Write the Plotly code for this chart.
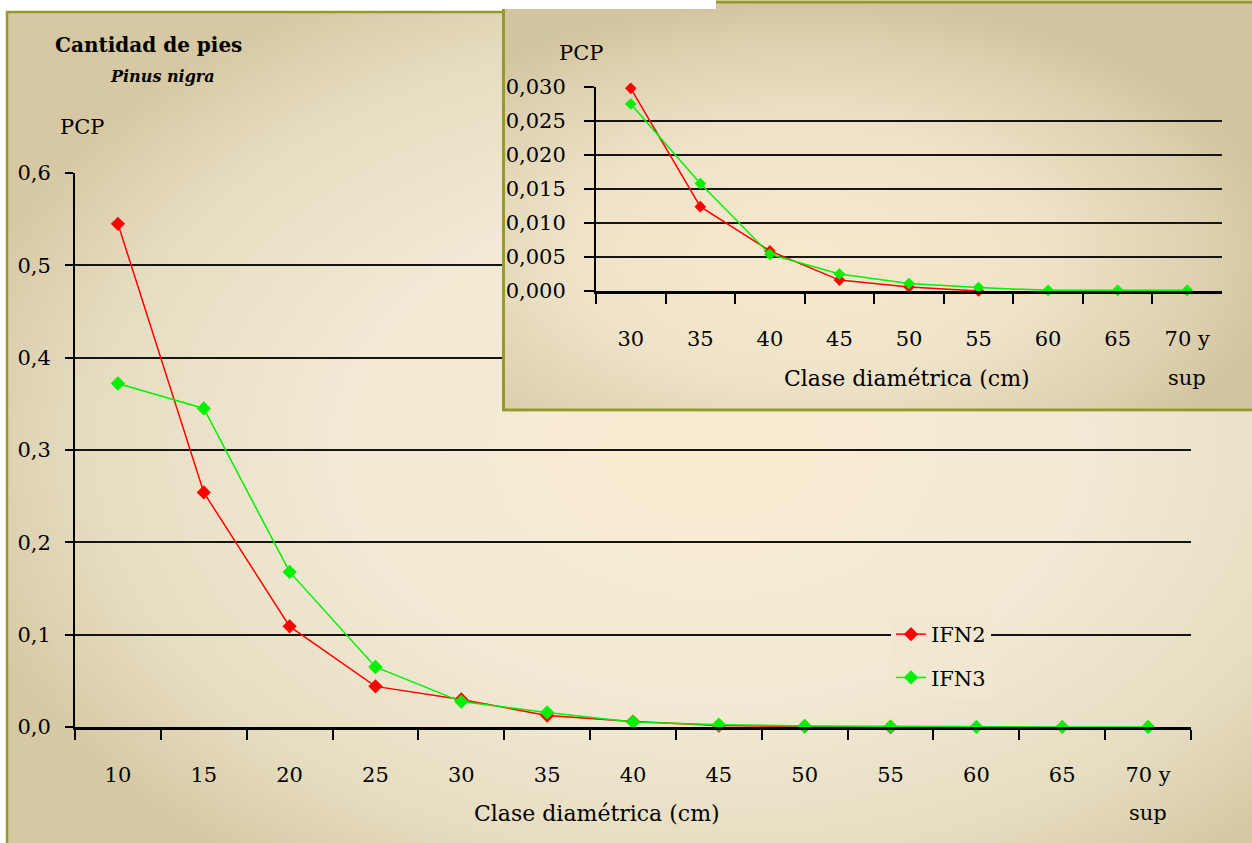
import base64
import plotly.graph_objects as go

# clases diametricas y proporcion de pies (PCP)
clases = ["10", "15", "20", "25", "30", "35", "40", "45", "50", "55", "60", "65", "70 y"]
ifn2 = [0.545, 0.254, 0.109, 0.044, 0.0298, 0.0124, 0.0059, 0.0016, 0.0006, 0.0000, None, None, None]
ifn3 = [0.372, 0.345, 0.168, 0.065, 0.0275, 0.0158, 0.0054, 0.0025, 0.0011, 0.0005, 0.0001, 0.0001, 0.0001]

# detalle a partir de 30 cm
clases_det = clases[4:]
ifn2_det = ifn2[4:]
ifn3_det = ifn3[4:]

W, H = 1252, 843
FONT = "DejaVu Serif"
RED = "#FF0000"
GREEN = "#00F000"
OLIVE = "#959A2C"


def px_x(v):
    return v / W


def px_y(v):
    return 1 - v / H


def svg_uri(svg):
    return "data:image/svg+xml;base64," + base64.b64encode(svg.encode()).decode()


main_bg = svg_uri(
    "<svg xmlns='http://www.w3.org/2000/svg' width='1252' height='843' viewBox='0 0 1252 843' "
    "preserveAspectRatio='none'><defs>"
    "<radialGradient id='g' cx='0.56' cy='0.52' r='0.62'>"
    "<stop offset='0' stop-color='#FAECD2'/><stop offset='0.5' stop-color='#F2E9D4'/>"
    "<stop offset='0.8' stop-color='#E6DCC0'/><stop offset='1' stop-color='#D6C8A3'/>"
    "</radialGradient></defs>"
    "<rect width='1252' height='843' fill='white'/>"
    "<rect x='7' y='12' width='1260' height='840' fill='url(#g)' stroke='" + OLIVE + "' stroke-width='2.5'/>"
    "</svg>"
)

inset_bg = svg_uri(
    "<svg xmlns='http://www.w3.org/2000/svg' width='750' height='412' viewBox='0 0 750 412' "
    "preserveAspectRatio='none'><defs>"
    "<radialGradient id='h' cx='0.4' cy='0.62' r='0.62'>"
    "<stop offset='0' stop-color='#F8E9CD'/><stop offset='0.5' stop-color='#EEE3C9'/>"
    "<stop offset='0.85' stop-color='#DDD0AE'/><stop offset='1' stop-color='#D3C59F'/>"
    "</radialGradient></defs>"
    "<rect width='750' height='412' fill='white'/>"
    "<rect x='1.5' y='2' width='760' height='408' fill='url(#h)' stroke='" + OLIVE + "' stroke-width='3'/>"
    "<rect x='0' y='0' width='214' height='9' fill='white'/>"
    "</svg>"
)

fig = go.Figure()

# grafico principal
fig.add_trace(go.Scatter(
    x=clases, y=ifn2, mode="lines+markers", name="IFN2", cliponaxis=False,
    line=dict(color=RED, width=1.5), marker=dict(symbol="diamond", size=11, color=RED),
    legendgroup="a", xaxis="x", yaxis="y"
))
fig.add_trace(go.Scatter(
    x=clases, y=ifn3, mode="lines+markers", name="IFN3", cliponaxis=False,
    line=dict(color=GREEN, width=1.5), marker=dict(symbol="diamond", size=11, color=GREEN),
    legendgroup="b", xaxis="x", yaxis="y"
))

# capa de fondo del detalle
fig.add_trace(go.Scatter(
    x=[None], y=[None], mode="lines", showlegend=False, hoverinfo="skip",
    xaxis="x2", yaxis="y2"
))

# detalle
fig.add_trace(go.Scatter(
    x=clases_det, y=ifn2_det, mode="lines+markers", name="IFN2", showlegend=False, cliponaxis=False,
    line=dict(color=RED, width=1.5), marker=dict(symbol="diamond", size=9, color=RED),
    xaxis="x3", yaxis="y3"
))
fig.add_trace(go.Scatter(
    x=clases_det, y=ifn3_det, mode="lines+markers", name="IFN3", showlegend=False, cliponaxis=False,
    line=dict(color=GREEN, width=1.5), marker=dict(symbol="diamond", size=9, color=GREEN),
    xaxis="x3", yaxis="y3"
))

tickfont = dict(family=FONT, size=21, color="black")

fig.update_layout(
    width=W, height=H,
    margin=dict(l=0, r=0, t=0, b=0),
    paper_bgcolor="white",
    plot_bgcolor="rgba(0,0,0,0)",
    separators=",.",
    font=dict(family=FONT, size=21, color="black"),
    xaxis=dict(
        domain=[px_x(75), px_x(1191)], anchor="y", automargin=False,
        type="category", categoryorder="array", categoryarray=clases,
        range=[-0.5, len(clases) - 0.5], tickson="boundaries",
        ticks="outside", ticklen=10, tickwidth=2, tickcolor="black",
        showline=True, linecolor="black", linewidth=3, showgrid=False,
        tickfont=tickfont, ticklabelstandoff=27, fixedrange=True,
    ),
    yaxis=dict(
        domain=[px_y(727), px_y(173)], anchor="x", automargin=False,
        range=[0, 0.6], dtick=0.1, tickformat=".1f",
        ticks="outside", ticklen=8, tickwidth=2, tickcolor="black",
        showline=True, linecolor="black", linewidth=2,
        showgrid=True, gridcolor="#151515", gridwidth=2, zeroline=False,
        tickfont=tickfont, ticklabelstandoff=10, fixedrange=True,
    ),
    xaxis2=dict(domain=[px_x(502), 1], anchor="y2", range=[0, 1], visible=False,
                automargin=False, fixedrange=True),
    yaxis2=dict(domain=[px_y(412), 1], anchor="x2", range=[0, 1], visible=False,
                automargin=False, fixedrange=True),
    xaxis3=dict(
        domain=[px_x(596), px_x(1222)], anchor="y3", automargin=False,
        type="category", categoryorder="array", categoryarray=clases_det,
        range=[-0.5, len(clases_det) - 0.5], tickson="boundaries",
        ticks="outside", ticklen=10, tickwidth=2, tickcolor="black",
        showline=True, linecolor="black", linewidth=3, showgrid=False,
        tickfont=tickfont, ticklabelstandoff=27, fixedrange=True,
    ),
    yaxis3=dict(
        domain=[px_y(291), px_y(87)], anchor="x3", automargin=False,
        range=[0, 0.03], dtick=0.005, tickformat=".3f",
        ticks="outside", ticklen=10, tickwidth=2, tickcolor="black",
        showline=True, linecolor="black", linewidth=2,
        showgrid=True, gridcolor="#151515", gridwidth=2, zeroline=False,
        tickfont=tickfont, ticklabelstandoff=14, fixedrange=True,
    ),
    legend=dict(
        x=px_x(891), y=px_y(614), xanchor="left", yanchor="top",
        bgcolor="#F2E8D1", borderwidth=0, tracegroupgap=13,
        font=dict(family=FONT, size=21, color="black"),
    ),
    showlegend=True,
    images=[
        dict(source=main_bg, xref="paper", yref="paper", x=0, y=1, sizex=1, sizey=1,
             xanchor="left", yanchor="top", sizing="stretch", layer="below"),
        dict(source=inset_bg, xref="x2", yref="y2", x=0, y=1, sizex=1, sizey=1,
             xanchor="left", yanchor="top", sizing="stretch", layer="below"),
    ],
)

notes = [
    ("<b>Cantidad de pies</b>", 53, 45, "left", 20),
    ("<b><i>Pinus nigra</i></b>", 108, 76, "left", 16),
    ("PCP", 58, 127, "left", 21),
    ("Clase diamétrica (cm)", 597, 813, "center", 22),
    ("sup", 1148, 813, "center", 21),
    ("PCP", 557, 53, "left", 21),
    ("Clase diamétrica (cm)", 907, 378, "center", 22),
    ("sup", 1187, 378, "center", 21),
]
for text, x, y, anchor, size in notes:
    fig.add_annotation(
        text=text, x=px_x(x), y=px_y(y), xref="paper", yref="paper",
        xanchor=anchor, yanchor="middle", showarrow=False,
        font=dict(family=FONT, size=size, color="black"),
    )

fig.write_html(
    "out.html",
    config={"displayModeBar": False},
    post_script="document.body.style.margin='0';document.body.style.overflow='hidden';",
)
